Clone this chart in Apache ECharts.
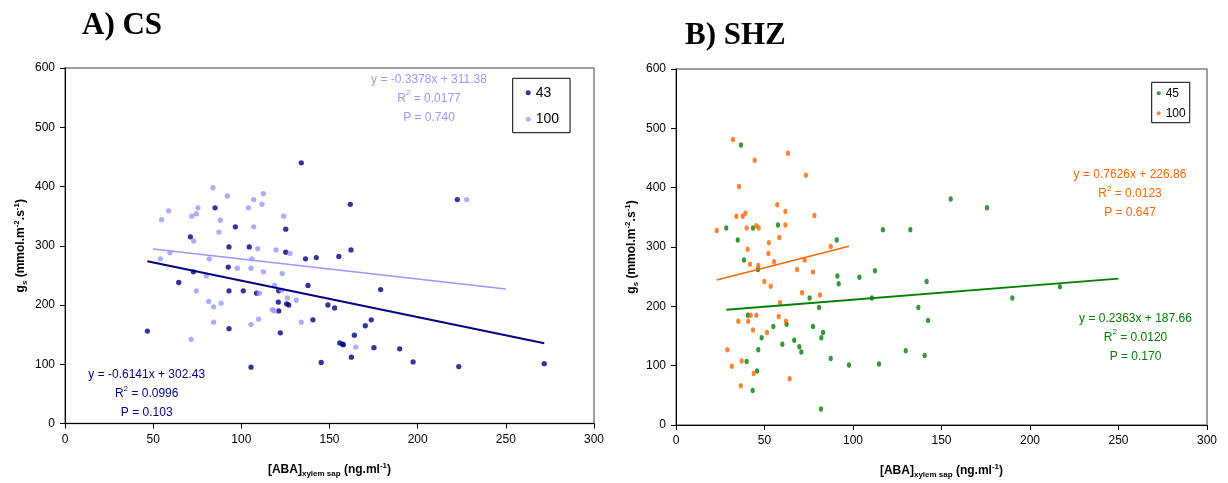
<!DOCTYPE html>
<html><head><meta charset="utf-8">
<script src="https://cdn.jsdelivr.net/npm/echarts@6/dist/echarts.min.js"></script>
<style>html,body{margin:0;padding:0;background:#fff}#c{width:1228px;height:483px}</style>
</head><body><div id="c"></div>
<script>
// ---- tick labels ----
const xTicks = [0, 50, 100, 150, 200, 250, 300];
const yTicks = [0, 100, 200, 300, 400, 500, 600];

// ---- A) CS ----
const csLow = [ // 43
[134.0,440],[85.1,364],[96.6,332],[125.2,328],[71.1,315],[93.0,298],[104.5,298],[161.8,370],
[162.2,293],[222.5,378],[125.2,289],[136.4,278],[142.5,280],[155.3,282],[72.8,256],[64.5,238],
[92.6,264],[93.0,224],[101.1,224],[108.7,220],[121.2,224],[137.8,233],[121.0,205],[125.7,202],
[126.9,200],[121.2,190],[149.1,200],[152.9,195],[140.6,175],[46.7,156],[93.0,160],[122.1,153],
[155.8,136],[157.4,134],[157.8,133],[145.3,103],[105.5,95],[179.0,226],[173.7,175],[170.3,165],
[164.1,149],[175.2,128],[189.8,126],[162.4,112],[197.4,104],[223.3,96],[271.8,101]];
const csHigh = [ // 100
[83.9,398],[92.1,384],[112.5,388],[107.0,378],[111.7,370],[104.0,364],[75.4,364],[58.8,359],
[71.9,350],[74.5,354],[54.8,344],[88.1,343],[124.0,350],[107.0,332],[87.3,323],[73.0,308],
[109.3,295],[119.7,293],[227.8,378],[54.1,278],[59.5,288],[81.8,278],[127.6,287],[105.9,278],
[97.7,262],[105.5,262],[112.5,256],[123.2,253],[80.1,249],[74.5,224],[110.2,220],[118.9,233],
[122.9,225],[126.1,212],[131.2,208],[81.5,206],[84.3,197],[88.5,203],[117.6,192],[118.7,190],
[84.3,171],[109.8,176],[105.5,167],[134.0,171],[71.5,142],[164.9,129]];
const csLowTrend = [[46.7,273.8],[271.8,135.5]];
const csHighTrend = [[50,294.5],[250,226.9]];

// ---- B) SHZ ----
const shzLow = [ // 45
[36.7,472],[28.4,332],[43.5,332],[57.6,337],[34.9,312],[90.8,312],[116.9,329],[132.4,329],
[155.2,381],[175.7,366],[38.4,278],[46.3,262],[91.2,251],[91.9,238],[103.6,249],[112.4,260],
[141.6,242],[75.5,214],[110.7,214],[80.8,198],[136.9,198],[142.4,176],[40.7,185],[55.0,166],
[62.5,170],[77.4,166],[83.1,156],[82.1,147],[48.4,147],[66.8,143],[60.1,136],[69.7,132],
[70.8,123],[46.5,127],[87.4,112],[129.8,125],[140.5,117],[39.9,107],[97.7,101],[114.7,103],
[45.8,91],[43.3,58],[81.9,27],[190.0,214],[216.9,233]];
const shzHigh = [ // 100
[32.2,481],[63.3,458],[44.5,446],[73.4,421],[35.6,402],[57.2,371],[61.8,360],[78.2,353],
[34.1,352],[37.7,352],[39.2,357],[61.8,337],[39.9,332],[45.4,336],[46.7,332],[23.0,328],
[58.4,316],[52.5,307],[87.4,301],[40.5,296],[52.2,289],[41.8,271],[46.5,269],[55.4,275],
[72.7,278],[68.4,262],[77.4,258],[49.9,242],[53.5,234],[71.2,223],[81.4,219],[58.8,206],
[42.2,185],[45.4,185],[58.0,183],[35.2,175],[40.8,175],[62.1,175],[43.5,160],[51.4,156],
[29.0,127],[31.5,99],[37.1,108],[43.9,87],[36.6,66],[64.2,78]];
const shzLowTrend = [[28.4,194.4],[250,246.7]];
const shzHighTrend = [[23,244.4],[97.7,301.4]];

const legendNames = {cs43:'43', cs100:'100', shz45:'45', shz100:'100'};

const FF = '"Liberation Sans", Arial, sans-serif';
const SERIF = '"Liberation Serif", "Times New Roman", serif';
const ell = 'path://M0,-1A1,1,0,1,1,0,1A1,1,0,1,1,0,-1Z';

function nameRich() {
  return {
    n:{fontSize:12, fontWeight:'bold', fontFamily:FF, lineHeight:16, color:'#000'},
    sub:{fontSize:8, fontWeight:'bold', fontFamily:FF, lineHeight:10, verticalAlign:'bottom', color:'#000'},
    sup:{fontSize:8, fontWeight:'bold', fontFamily:FF, lineHeight:7, verticalAlign:'top', color:'#000'}
  };
}
function xAx(gi) {
  return {
    type:'value', gridIndex:gi, min:xTicks[0], max:xTicks[xTicks.length-1], interval:xTicks[1]-xTicks[0],
    splitLine:{show:false},
    axisLine:{show:true, onZero:false, lineStyle:{color:'#000', width:1}},
    axisTick:{show:true, inside:false, length:5, lineStyle:{color:'#000'}},
    axisLabel:{color:'#000', fontSize:12, fontFamily:FF, margin:10},
    name:'[ABA]{sub|xylem sap}{n| (ng.ml}{sup|-1}{n|)}',
    nameLocation:'middle', nameGap:38,
    nameTextStyle:{color:'#000', fontSize:12, fontWeight:'bold', fontFamily:FF, lineHeight:16, rich:nameRich()}
  };
}
function yAx(gi) {
  return {
    type:'value', gridIndex:gi, min:yTicks[0], max:yTicks[yTicks.length-1], interval:yTicks[1]-yTicks[0],
    splitLine:{show:false},
    axisLine:{show:true, onZero:false, lineStyle:{color:'#000', width:1}},
    axisTick:{show:true, inside:false, length:5, lineStyle:{color:'#000'}},
    axisLabel:{color:'#000', fontSize:12, fontFamily:FF, margin:10},
    name:'{n|g}{sub|s}{n| (mmol.m}{sup|-2}{n|.s}{sup|-1}{n|)}',
    nameLocation:'middle', nameGap:36,
    nameTextStyle:{color:'#000', fontSize:12, fontWeight:'bold', fontFamily:FF, lineHeight:16, rich:nameRich()}
  };
}

function annot(x, y, lines, color) {
  return {
    type:'text', x:x, y:y, silent:true,
    style:{
      text: lines, fill: color, font: '12px ' + FF, lineHeight: 19,
      align:'center', verticalAlign:'middle',
      rich:{ sup:{fontSize:8, fontFamily:FF, lineHeight:11, verticalAlign:'top', fill:color} }
    }
  };
}

const chart = echarts.init(document.getElementById('c'));
chart.setOption({
  animation:false,
  backgroundColor:'#fff',
  title:[
    {text:'A) CS', left:82, top:10, padding:0, textStyle:{fontFamily:SERIF, fontWeight:'bold', fontSize:31, color:'#000'}},
    {text:'B) SHZ', left:685, top:20, padding:0, textStyle:{fontFamily:SERIF, fontWeight:'bold', fontSize:31, color:'#000'}}
  ],
  grid:[
    {left:65, top:68, width:529, height:355.5, show:true, borderColor:'#808080', borderWidth:1.5, backgroundColor:'transparent', outerBoundsMode:'none'},
    {left:676, top:69, width:531, height:356, show:true, borderColor:'#808080', borderWidth:1.5, backgroundColor:'transparent', outerBoundsMode:'none'}
  ],
  legend:[
    {data:['cs43','cs100'], orient:'vertical', left:512.7, top:78.3, padding:[7.4,11,6.4,13], itemGap:12.6,
     itemWidth:5, itemHeight:5, icon:'circle', selectedMode:false, formatter:n=>legendNames[n],
     borderColor:'#000', borderWidth:1, backgroundColor:'#fff',
     textStyle:{color:'#000', fontSize:14, fontFamily:FF, lineHeight:14}},
    {data:['shz45','shz100'], orient:'vertical', left:1151.7, top:82.3, padding:[5,4,3.4,5], itemGap:8,
     itemWidth:4, itemHeight:5.5, icon:ell, selectedMode:false, formatter:n=>legendNames[n],
     borderColor:'#000', borderWidth:1, backgroundColor:'#fff',
     textStyle:{color:'#000', fontSize:12, fontFamily:FF, lineHeight:12}}
  ],
  xAxis:[xAx(0), xAx(1)],
  yAxis:[yAx(0), yAx(1)],
  series:[
    {name:'cs43', type:'scatter', xAxisIndex:0, yAxisIndex:0, data:csLow, symbol:'circle', symbolSize:5.3, itemStyle:{color:'#000080'}, silent:true},
    {name:'cs100', type:'scatter', xAxisIndex:0, yAxisIndex:0, data:csHigh, symbol:'circle', symbolSize:5.3, itemStyle:{color:'#9999ff'}, silent:true},
    {name:'cs43 trend', type:'line', xAxisIndex:0, yAxisIndex:0, data:csLowTrend, symbol:'none', lineStyle:{color:'#000080', width:2}, silent:true},
    {name:'cs100 trend', type:'line', xAxisIndex:0, yAxisIndex:0, data:csHighTrend, symbol:'none', lineStyle:{color:'#9999ff', width:1.6}, silent:true},
    {name:'shz45', type:'scatter', xAxisIndex:1, yAxisIndex:1, data:shzLow, symbol:ell, symbolSize:[4.2,5.5], itemStyle:{color:'#008000'}, silent:true},
    {name:'shz100', type:'scatter', xAxisIndex:1, yAxisIndex:1, data:shzHigh, symbol:ell, symbolSize:[4.2,5.5], itemStyle:{color:'#ff6600'}, silent:true},
    {name:'shz45 trend', type:'line', xAxisIndex:1, yAxisIndex:1, data:shzLowTrend, symbol:'none', lineStyle:{color:'#008000', width:2}, silent:true},
    {name:'shz100 trend', type:'line', xAxisIndex:1, yAxisIndex:1, data:shzHighTrend, symbol:'none', lineStyle:{color:'#ff6600', width:1.6}, silent:true}
  ],
  graphic:[
    annot(429, 98.5, 'y = -0.3378x + 311.38\nR{sup|2} = 0.0177\nP = 0.740', '#9999ff'),
    annot(146.7, 394, 'y = -0.6141x + 302.43\nR{sup|2} = 0.0996\nP = 0.103', '#000080'),
    annot(1130, 194, 'y = 0.7626x + 226.86\nR{sup|2} = 0.0123\nP = 0.647', '#ff6600'),
    annot(1135.5, 337.5, 'y = 0.2363x + 187.66\nR{sup|2} = 0.0120\nP = 0.170', '#008000')
  ]
});
</script></body></html>
